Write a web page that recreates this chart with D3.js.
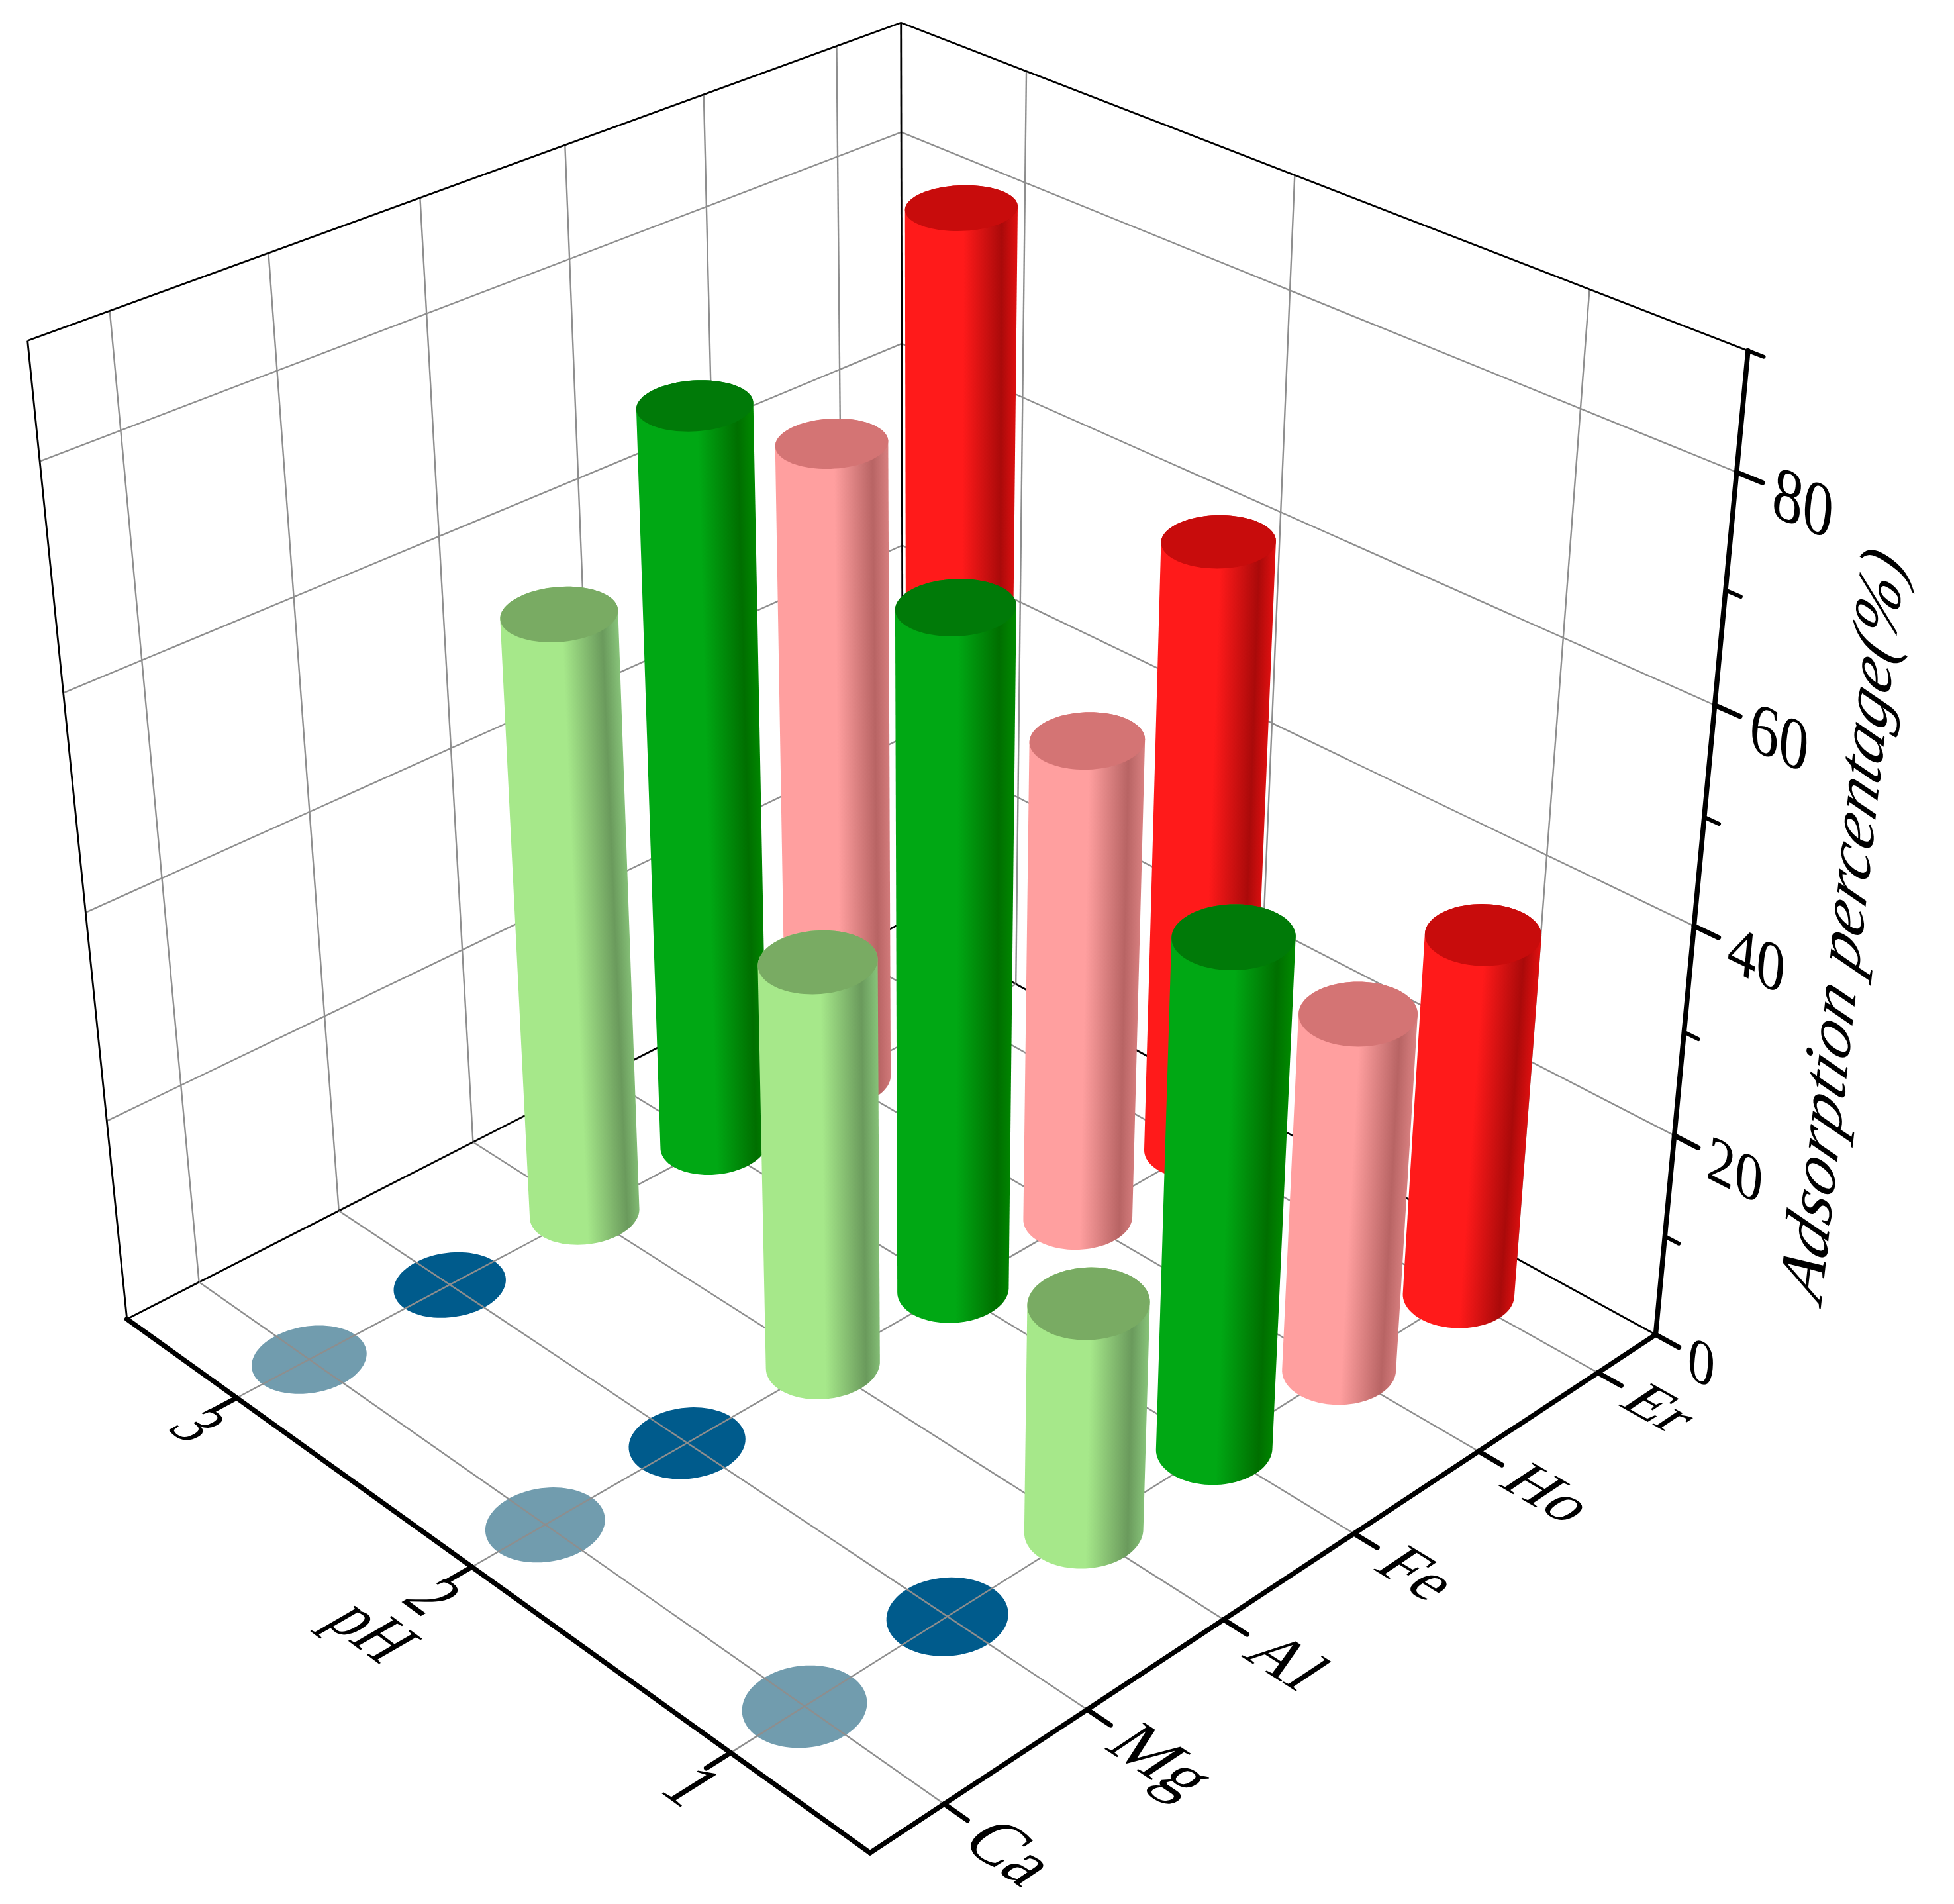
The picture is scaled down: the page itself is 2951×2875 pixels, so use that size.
<!DOCTYPE html>
<html>
<head>
<meta charset="utf-8">
<script src="https://cdn.jsdelivr.net/npm/d3@7"></script>
<style>
    body { margin: 0; background: #fff; }
    text { font-family: "Liberation Serif", serif; fill: #000; }
</style>
</head>
<body>
<script>
//categories and tick labels
var metals = ["Ca", "Mg", "Al", "Fe", "Ho", "Er"];
var phLevels = [1, 2, 3];
var zMajor = [0, 20, 40, 60, 80];
var zMinor = [10, 30, 50, 70, 90];

//adsorption percentage per metal, one value for each pH level
var caValues = [0, 0, 0];
var mgValues = [0, 0, 0];
var alValues = [22.1, 39.3, 58.6];
var feValues = [48.6, 65.2, 72];
var hoValues = [34.9, 47.3, 63.4];
var erValues = [35.7, 60, 80];
var allValues = [caValues, mgValues, alValues, feValues, hoValues, erValues];

//colours per metal
var sideColors = ["#719cae", "#005b8c", "#a6e88a", "#00a814", "#ff9f9f", "#ff1a1a"];
var darkColors = ["#719cae", "#005b8c", "#6a9a5c", "#006f00", "#b86464", "#aa0a0a"];
var edgeColors = ["#719cae", "#005b8c", "#88c47a", "#008a00", "#d88080", "#e01010"];
var topColors = ["#719cae", "#005b8c", "#79ab63", "#007a08", "#d47474", "#c80c0c"];

var width = 2951,
    height = 2875;

//scales put everything in a unit cube, u = metal, v = pH, w = percentage
var uScale = d3.scalePoint().domain(metals).range([0, 1]).padding(0.5);
var vScale = d3.scalePoint().domain(phLevels).range([0, 1]).padding(0.5);
var wScale = d3.scaleLinear().domain([0, 90]).range([0, 1]);

//where the box corners land on the page, the camera is fitted to these
var anchors = [
    [0, 0, 0, 1313, 2798],
    [1, 0, 0, 2501, 2014],
    [0, 1, 0, 193, 1992],
    [1, 1, 0, 1362, 1393],
    [1, 0, 1, 2640, 530],
    [0, 1, 1, 41, 514],
    [1, 1, 1, 1362, 34],
    [1, 0, wScale(20), 2530, 1715],
    [1, 0, wScale(60), 2590, 1065],
    [1, 0, wScale(80), 2621, 713]
];

var camera = fitCamera(anchors);

//least squares for the 3x4 projection matrix, last element is fixed to 1
function fitCamera(pts){
    var rows = [], rhs = [];
    pts.forEach(function(p){
        var x = p[3] / 1000, y = p[4] / 1000;
        rows.push([p[0], p[1], p[2], 1, 0, 0, 0, 0, -x * p[0], -x * p[1], -x * p[2]]);
        rhs.push(x);
        rows.push([0, 0, 0, 0, p[0], p[1], p[2], 1, -y * p[0], -y * p[1], -y * p[2]]);
        rhs.push(y);
    });
    var n = 11, m = [];
    for (var i = 0; i < n; i++){
        m.push([]);
        for (var j = 0; j < n; j++){
            m[i].push(d3.sum(rows, function(r){ return r[i] * r[j]; }));
        }
        m[i].push(d3.sum(rows, function(r, k){ return r[i] * rhs[k]; }));
    }
    for (var c = 0; c < n; c++){
        var best = c;
        for (var r = c + 1; r < n; r++){
            if (Math.abs(m[r][c]) > Math.abs(m[best][c])) best = r;
        }
        var tmp = m[c]; m[c] = m[best]; m[best] = tmp;
        for (var r2 = 0; r2 < n; r2++){
            if (r2 == c) continue;
            var f = m[r2][c] / m[c][c];
            for (var k = c; k <= n; k++) m[r2][k] -= f * m[c][k];
        }
    }
    return m.map(function(row, i){ return row[n] / row[i]; });
}

function project(u, v, w){
    var c = camera;
    var d = c[8] * u + c[9] * v + c[10] * w + 1;
    return [1000 * (c[0] * u + c[1] * v + c[2] * w + c[3]) / d,
            1000 * (c[4] * u + c[5] * v + c[6] * w + c[7]) / d];
}

var svg = d3.select("body")
    .append("svg")
    .attr("width", width)
    .attr("height", height);
var defs = svg.append("defs");

function drawLine(g, a, b, color, lw, cap){
    var p = project(a[0], a[1], a[2]), q = project(b[0], b[1], b[2]);
    g.append("line")
        .attr("x1", p[0]).attr("y1", p[1])
        .attr("x2", q[0]).attr("y2", q[1])
        .attr("stroke", color)
        .attr("stroke-width", lw)
        .attr("stroke-linecap", cap || "butt");
}

var gridColor = "#8e8e8e", gridWidth = 2.4, boxWidth = 2.8, axisWidth = 7.5;

//walls
var walls = svg.append("g").attr("class", "walls");
metals.forEach(function(m){
    drawLine(walls, [uScale(m), 1, 0], [uScale(m), 1, 1], gridColor, gridWidth);
});
phLevels.forEach(function(p){
    drawLine(walls, [1, vScale(p), 0], [1, vScale(p), 1], gridColor, gridWidth);
});
[20, 40, 60, 80].forEach(function(t){
    drawLine(walls, [0, 1, wScale(t)], [1, 1, wScale(t)], gridColor, gridWidth);
    drawLine(walls, [1, 1, wScale(t)], [1, 0, wScale(t)], gridColor, gridWidth);
});
drawLine(walls, [0, 1, 0], [0, 1, 1], "#000", boxWidth);
drawLine(walls, [0, 1, 1], [1, 1, 1], "#000", boxWidth);
drawLine(walls, [1, 1, 1], [1, 0, 1], "#000", boxWidth);
drawLine(walls, [1, 1, 0], [1, 1, 1], "#000", boxWidth);
drawLine(walls, [0, 1, 0], [1, 1, 0], "#000", boxWidth);
drawLine(walls, [1, 1, 0], [1, 0, 0], "#000", boxWidth);

//one list of bars, back ones first so the front ones cover them
var bars = [];
metals.forEach(function(m, i){
    phLevels.forEach(function(p, j){
        bars.push({metal: i, ph: j, u: uScale(m), v: vScale(p), value: allValues[i][j]});
    });
});
bars.sort(function(a, b){ return (b.u + b.v) - (a.u + a.v); });

var radiusU = 0.054, radiusV = 0.05;

function ring(b, w){
    return d3.range(0, 90).map(function(i){
        var t = i / 90 * 2 * Math.PI;
        return project(b.u + radiusU * Math.cos(t), b.v + radiusV * Math.sin(t), w);
    });
}
var outline = d3.line().curve(d3.curveLinearClosed);

//discs for the zero values sit under the floor grid
svg.append("g").selectAll("path")
    .data(bars.filter(function(b){ return b.value == 0; }))
    .enter()
    .append("path")
    .attr("d", function(b){ return outline(ring(b, 0)); })
    .attr("fill", function(b){ return topColors[b.metal]; });

//floor grid
var floor = svg.append("g").attr("class", "floor");
metals.forEach(function(m){
    drawLine(floor, [uScale(m), 0, 0], [uScale(m), 1, 0], gridColor, gridWidth);
});
phLevels.forEach(function(p){
    drawLine(floor, [0, vScale(p), 0], [1, vScale(p), 0], gridColor, gridWidth);
});

//cylinders
var cylinders = svg.append("g").attr("class", "cylinders");
bars.filter(function(b){ return b.value > 0; }).forEach(function(b, idx){
    var w = wScale(b.value);
    var baseRing = ring(b, 0), topRing = ring(b, w);
    var hull = d3.polygonHull(baseRing.concat(topRing));
    var c0 = project(b.u, b.v, 0), c1 = project(b.u, b.v, w);

    //shade across the cylinder, perpendicular to its axis
    var len = Math.hypot(c1[0] - c0[0], c1[1] - c0[1]);
    var nx = -(c1[1] - c0[1]) / len, ny = (c1[0] - c0[0]) / len;
    if (nx < 0){ nx = -nx; ny = -ny; }
    var offs = hull.map(function(p){ return (p[0] - c0[0]) * nx + (p[1] - c0[1]) * ny; });
    var lo = d3.min(offs), hi = d3.max(offs);

    var id = "shade" + idx;
    var grad = defs.append("linearGradient")
        .attr("id", id)
        .attr("gradientUnits", "userSpaceOnUse")
        .attr("x1", c0[0] + nx * lo).attr("y1", c0[1] + ny * lo)
        .attr("x2", c0[0] + nx * hi).attr("y2", c0[1] + ny * hi);
    var side = sideColors[b.metal];
    [[0, side], [0.52, side], [0.86, darkColors[b.metal]], [1, edgeColors[b.metal]]].forEach(function(s){
        grad.append("stop").attr("offset", s[0]).attr("stop-color", s[1]);
    });

    cylinders.append("path")
        .attr("d", outline(hull))
        .attr("fill", "url(#" + id + ")");
    cylinders.append("path")
        .attr("d", outline(topRing))
        .attr("fill", topColors[b.metal]);
});

//axes
var axes = svg.append("g").attr("class", "axes");
var tickLen = 0.027, minorLen = 0.016;
drawLine(axes, [0, 1, 0], [0, 0, 0], "#000", axisWidth, "round");
drawLine(axes, [0, 0, 0], [1, 0, 0], "#000", axisWidth, "round");
drawLine(axes, [1, 0, 0], [1, 0, 1], "#000", axisWidth, "round");
metals.forEach(function(m){
    drawLine(axes, [uScale(m), 0, 0], [uScale(m), -tickLen, 0], "#000", axisWidth, "round");
});
phLevels.forEach(function(p){
    drawLine(axes, [0, vScale(p), 0], [-tickLen, vScale(p), 0], "#000", axisWidth, "round");
});
zMajor.forEach(function(t){
    drawLine(axes, [1, 0, wScale(t)], [1, -tickLen, wScale(t)], "#000", axisWidth, "round");
});
zMinor.forEach(function(t){
    drawLine(axes, [1, 0, wScale(t)], [1, -minorLen, wScale(t)], "#000", axisWidth - 1.5, "round");
});

//text lies in the planes of the box, so it gets the local shape of the projection
function planeText(str, pos, xDir, upDir, emX, emUp, anchor, italic){
    var eps = 0.001;
    var p0 = project(pos[0], pos[1], pos[2]);
    var px = project(pos[0] + xDir[0] * eps, pos[1] + xDir[1] * eps, pos[2] + xDir[2] * eps);
    var pu = project(pos[0] + upDir[0] * eps, pos[1] + upDir[1] * eps, pos[2] + upDir[2] * eps);
    var a = (px[0] - p0[0]) / eps * emX / 100, b = (px[1] - p0[1]) / eps * emX / 100;
    var c = -(pu[0] - p0[0]) / eps * emUp / 100, d = -(pu[1] - p0[1]) / eps * emUp / 100;
    svg.append("text")
        .attr("transform", "matrix(" + [a, b, c, d, p0[0], p0[1]].join(",") + ")")
        .attr("text-anchor", anchor)
        .attr("dy", "0.33em")
        .style("font-size", "100px")
        .style("font-style", italic ? "italic" : "normal")
        .text(str);
}

var minusV = [0, -1, 0], plusU = [1, 0, 0], plusV = [0, 1, 0], plusW = [0, 0, 1];

metals.forEach(function(m){
    planeText(m, [uScale(m) - 0.001, -0.042, 0], minusV, plusU, 0.065, 0.072, "start");
});
phLevels.forEach(function(p){
    planeText(String(p), [-0.05, vScale(p) - 0.008, 0], minusV, plusU, 0.065, 0.072, "middle");
});
planeText("pH", [-0.115, vScale(2) - 0.008, 0], minusV, plusU, 0.063, 0.072, "middle");

zMajor.forEach(function(t){
    planeText(String(t), [1, -0.038, wScale(t) - 0.003], minusV, plusW, 0.062, 0.07, "start");
});
planeText("Adsorption percentage(%)", [1, -0.152, 0.515], plusW, plusV, 0.0704, 0.065, "middle", true);
</script>
</body>
</html>
